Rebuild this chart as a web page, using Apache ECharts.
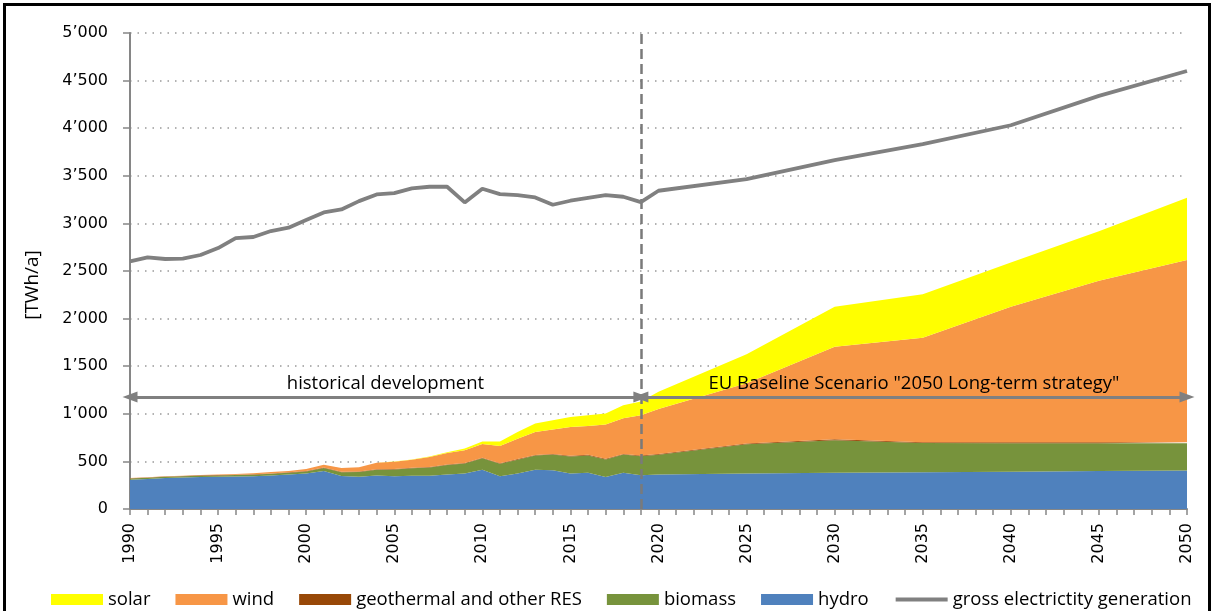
<!DOCTYPE html>
<html>
<head>
<meta charset="utf-8">
<script src="https://cdn.jsdelivr.net/npm/echarts@6/dist/echarts.min.js"></script>
<style>
  html, body { margin: 0; padding: 0; background: #fff; }
  #chart { width: 1213px; height: 611px; }
</style>
</head>
<body>
<div id="chart"></div>
<script>
// years: annual history 1990-2019, then scenario steps of 5 years
const years = [1990, 1991, 1992, 1993, 1994, 1995, 1996, 1997, 1998, 1999,
  2000, 2001, 2002, 2003, 2004, 2005, 2006, 2007, 2008, 2009,
  2010, 2011, 2012, 2013, 2014, 2015, 2016, 2017, 2018, 2019,
  2020, 2025, 2030, 2035, 2040, 2045, 2050];

const hydro = [308, 315, 326, 330, 337, 338, 342, 345, 352, 362,
  372, 400, 346, 339, 353, 343, 350, 350, 362, 372,
  412, 343, 372, 412, 408, 372, 382, 337, 382, 354,
  362, 372, 382, 385, 392, 398, 404];
const biomass = [12, 12, 12, 13, 13, 14, 15, 16, 18, 20,
  22, 30, 40, 50, 60, 72, 78, 85, 100, 105,
  120, 132, 146, 150, 164, 180, 180, 183, 190, 200,
  208, 308, 340, 307, 298, 292, 286];
const geothermal = [4, 4, 4, 4, 4, 4, 4, 4, 4, 4,
  5, 5, 5, 5, 5, 5, 5, 5, 6, 6,
  6, 6, 6, 6, 6, 7, 7, 7, 7, 7,
  8, 9, 10, 10, 10, 10, 10];
const wind = [1, 2, 3, 3, 4, 6, 7, 11, 14, 14,
  21, 29, 39, 44, 68, 77, 85, 107, 120, 135,
  145, 182, 214, 242, 256, 303, 303, 360, 373, 425,
  472, 631, 973, 1098, 1425, 1698, 1915];
const solar = [0, 0, 0, 0, 0, 0, 0, 0, 0, 0,
  0, 0, 0, 0, 1, 2, 3, 5, 8, 18,
  27, 46, 72, 88, 98, 105, 112, 116, 138, 143,
  182, 305, 420, 455, 465, 520, 655];
const gross = [2602, 2643, 2626, 2629, 2668, 2741, 2846, 2857, 2920, 2955,
  3035, 3115, 3147, 3234, 3304, 3318, 3367, 3385, 3385, 3220,
  3364, 3308, 3297, 3273, 3196, 3238, 3269, 3297, 3280, 3224,
  3343, 3465, 3665, 3832, 4031, 4339, 4601];

const splitYear = 2019;
const arrowLevel = 1176;

const chart = echarts.init(document.getElementById('chart'));

// value first, year second, so the stack runs on the y values
function pairs(arr) {
  return years.map((y, i) => [arr[i], y]);
}

function areaSeries(name, arr, color) {
  return {
    name: name,
    type: 'line',
    stack: 'res',
    data: pairs(arr),
    encode: { x: 1, y: 0 },
    symbol: 'none',
    lineStyle: { width: 0 },
    itemStyle: { color: color },
    areaStyle: { color: color, opacity: 1 }
  };
}

function fmtY(v) {
  if (v < 1000) return String(v);
  const r = v % 1000;
  return Math.floor(v / 1000) + '\u2019' + (r === 0 ? '000' : String(r).padStart(3, '0'));
}

const axisGray = '#868686';
const labelFont = { color: '#000', fontSize: 16, fontFamily: 'DejaVu Sans' };
const textFont = { color: '#000', fontSize: 18.5, fontFamily: 'Open Sans' };

// dashed separator between history and scenario
const hydroSeries = areaSeries('hydro', hydro, '#4F81BD');
hydroSeries.markLine = {
  silent: true,
  symbol: 'none',
  label: { show: false },
  lineStyle: { color: '#7a7a7a', width: 2.5, type: [10, 5] },
  data: [[{ coord: [splitYear, 0] }, { coord: [splitYear, 5000] }]]
};

const option = {
  animation: false,
  grid: { left: 130, right: 26, top: 33, bottom: 102 },
  legend: {
    left: 46,
    top: 585,
    width: 1160,
    itemWidth: 52,
    itemHeight: 11,
    itemGap: 25,
    textStyle: { color: '#000', fontSize: 18.5, fontFamily: 'Open Sans' },
    data: [
      { name: 'solar', icon: 'rect' },
      { name: 'wind', icon: 'rect' },
      { name: 'geothermal and other RES', icon: 'rect' },
      { name: 'biomass', icon: 'rect' },
      { name: 'hydro', icon: 'rect' },
      { name: 'gross electrictity generation', itemStyle: { opacity: 0 }, lineStyle: { width: 4 } }
    ]
  },
  xAxis: {
    type: 'value',
    min: 1990,
    max: 2050,
    interval: 5,
    axisLine: { lineStyle: { color: axisGray, width: 2 } },
    axisTick: { length: 6, lineStyle: { color: axisGray, width: 1.5 } },
    minorTick: { show: true, splitNumber: 5, length: 6, lineStyle: { color: axisGray, width: 1.5 } },
    splitLine: { show: false },
    axisLabel: Object.assign({ rotate: 90, margin: 14, formatter: v => String(v) }, labelFont)
  },
  yAxis: {
    type: 'value',
    min: 0,
    max: 5000,
    interval: 500,
    name: '[TWh/a]',
    nameLocation: 'middle',
    nameGap: 88,
    nameTextStyle: { color: '#000', fontSize: 19, fontFamily: 'Open Sans', padding: [0, 28, 0, 0] },
    axisLine: { show: true, lineStyle: { color: axisGray, width: 2 } },
    axisTick: { show: true, length: 7, lineStyle: { color: axisGray, width: 1.5 } },
    splitLine: { lineStyle: { color: '#999', width: 1.5, type: [1.5, 6] } },
    axisLabel: Object.assign({ margin: 22, formatter: fmtY }, labelFont)
  },
  series: [
    hydroSeries,
    areaSeries('biomass', biomass, '#77933C'),
    areaSeries('geothermal and other RES', geothermal, '#984807'),
    areaSeries('wind', wind, '#F79646'),
    areaSeries('solar', solar, '#FFFF00'),
    {
      name: 'gross electrictity generation',
      type: 'line',
      data: pairs(gross),
      encode: { x: 1, y: 0 },
      symbol: 'none',
      clip: false,
      z: 5,
      lineStyle: { color: '#808080', width: 3.8 },
      itemStyle: { color: '#808080' },
      markLine: {
        silent: true,
        symbol: ['triangle', 'triangle'],
        symbolSize: [11, 15],
        lineStyle: { color: '#808080', width: 3, type: 'solid' },
        data: [
          [
            {
              coord: [1990, arrowLevel],
              label: Object.assign({ show: true, position: 'insideMiddleTop', distance: 4, formatter: 'historical development' }, textFont)
            },
            { coord: [splitYear, arrowLevel] }
          ],
          [
            {
              coord: [splitYear, arrowLevel],
              label: Object.assign({ show: true, position: 'insideMiddleTop', distance: 4, formatter: 'EU Baseline Scenario "2050 Long-term strategy"' }, textFont)
            },
            { coord: [2050, arrowLevel] }
          ]
        ]
      }
    }
  ],
  graphic: [
    {
      type: 'rect',
      silent: true,
      shape: { x: 4.5, y: 4.5, width: 1205, height: 620 },
      style: { fill: 'none', stroke: '#000', lineWidth: 3 }
    }
  ]
};

chart.setOption(option);
</script>
</body>
</html>
